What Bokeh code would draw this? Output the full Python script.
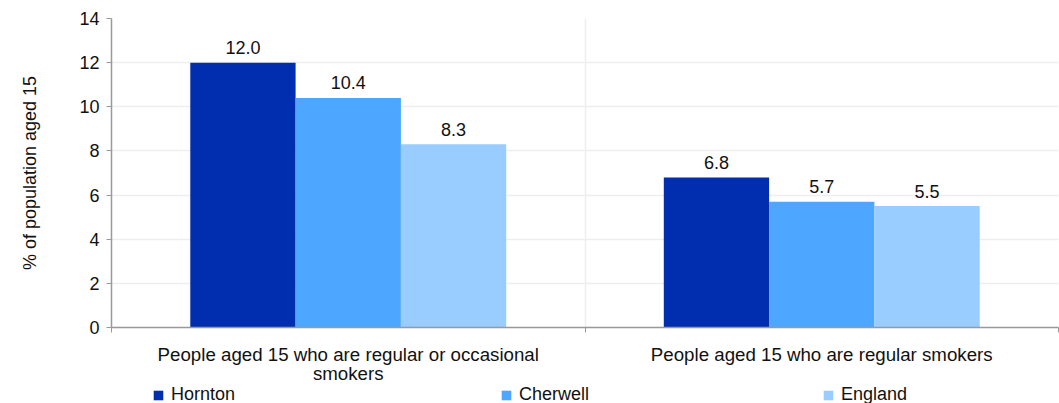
from bokeh.plotting import figure
from bokeh.layouts import column
from bokeh.models import (ColumnDataSource, Range1d, FixedTicker, Legend, LegendItem)
from bokeh.transform import dodge
from bokeh.core.properties import value
from bokeh.embed import file_html
from bokeh.resources import INLINE

categories = ["People aged 15 who are regular or occasional\nsmokers",
              "People aged 15 who are regular smokers"]
series = ["Hornton", "Cherwell", "England"]
hornton = [12.0, 6.8]
cherwell = [10.4, 5.7]
england = [8.3, 5.5]
colors = ["#002EAE", "#4DA6FF", "#99CCFF"]
y_ticks = [0, 2, 4, 6, 8, 10, 12, 14]

FONT = "Liberation Sans"
FS = "18px"

centers = [i + 0.5 for i in range(len(categories))]
src = ColumnDataSource(dict(
    x=centers,
    Hornton=hornton, Cherwell=cherwell, England=england,
    Hornton_lbl=["%.1f" % v for v in hornton],
    Cherwell_lbl=["%.1f" % v for v in cherwell],
    England_lbl=["%.1f" % v for v in england],
))

p = figure(width=1059, height=382, output_backend="svg", toolbar_location=None,
           x_range=Range1d(0, len(categories)), y_range=Range1d(0, 14),
           frame_width=947, frame_height=309,
           min_border_left=111, min_border_top=18, min_border_right=1,
           min_border_bottom=55)
p.outline_line_color = None

bw = 0.2224
offsets = [-bw, 0, bw]
for s, c, off in zip(series, colors, offsets):
    p.vbar(x=dodge("x", off, range=p.x_range), top=s, width=bw, source=src,
           fill_color=c, line_color=None)
    p.text(x=dodge("x", off, range=p.x_range), y=s, text=s + "_lbl", source=src,
           text_align="center", text_baseline="bottom", y_offset=-8.5,
           text_font=value(FONT), text_font_size=FS, text_color="#111111")

# axes
p.xaxis.ticker = FixedTicker(ticks=centers, minor_ticks=[0, 1, 2])
p.xaxis.major_label_overrides = {c: lbl for c, lbl in zip(centers, categories)}
p.xaxis.major_tick_in = 0
p.xaxis.major_tick_out = 0
p.xaxis.minor_tick_in = 0
p.xaxis.minor_tick_out = 5
p.xaxis.minor_tick_line_color = "#999999"
p.xaxis.axis_line_color = "#999999"
p.xaxis.axis_line_width = 1.5
p.xaxis.major_label_text_font = FONT
p.xaxis.major_label_text_font_size = "18.7px"
p.xaxis.major_label_text_line_height = 0.95
p.xaxis.major_label_text_color = "#111111"
p.xaxis.major_label_standoff = 11

p.yaxis.ticker = FixedTicker(ticks=y_ticks)
p.yaxis.minor_tick_line_color = None
p.yaxis.major_tick_in = 0
p.yaxis.major_tick_out = 5
p.yaxis.major_tick_line_color = "#999999"
p.yaxis.axis_line_color = "#999999"
p.yaxis.axis_line_width = 1.5
p.yaxis.major_label_text_font = FONT
p.yaxis.major_label_text_font_size = FS
p.yaxis.major_label_text_color = "#111111"
p.yaxis.major_label_standoff = 7
p.yaxis.axis_label = "% of population aged 15"
p.yaxis.axis_label_text_font = FONT
p.yaxis.axis_label_text_font_size = FS
p.yaxis.axis_label_text_font_style = "normal"
p.yaxis.axis_label_text_color = "#111111"
p.yaxis.axis_label_standoff = 36

p.ygrid.ticker = FixedTicker(ticks=y_ticks)
p.ygrid.grid_line_color = "#eeeeee"
p.ygrid.grid_line_width = 1.5
p.xgrid.ticker = FixedTicker(ticks=[1, 2])
p.xgrid.grid_line_color = "#eeeeee"
p.xgrid.grid_line_width = 1.5

# legend strip under the chart (its frame is aligned with the chart frame)
lf = figure(width=1059, height=21, output_backend="svg", toolbar_location=None,
            x_range=Range1d(0, 1), y_range=Range1d(0, 1),
            min_border_left=0, min_border_right=0, min_border_top=0, min_border_bottom=0)
lf.axis.visible = False
lf.grid.visible = False
lf.outline_line_color = None
leg_x = [41, 389, 711]
for s, c, lx in zip(series, colors, leg_x):
    r = lf.vbar(x=[-5], top=[-5], bottom=[-6], width=0.1, fill_color=c, line_color=None)
    leg = Legend(items=[LegendItem(label=s, renderers=[r])], location=(lx, 3),
                 orientation="horizontal", glyph_width=12, glyph_height=12,
                 label_standoff=7, padding=0, margin=0, border_line_color=None,
                 background_fill_alpha=0, label_text_font=FONT, label_height=20,
                 label_text_font_size=FS, label_text_color="#111111")
    lf.add_layout(leg, "center")

layout = column(p, lf, spacing=0)
open("out.html", "w").write(file_html(layout, INLINE))
